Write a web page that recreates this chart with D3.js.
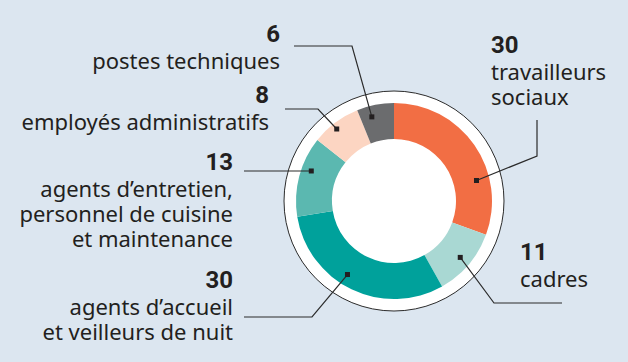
<!DOCTYPE html>
<html>
<head>
<meta charset="utf-8">
<style>
body { margin: 0; background: #dce6f0; }
.num { font-family: Roboto, "Liberation Sans", sans-serif; font-weight: 700; font-size: 24px; fill: #231f20; }
.lbl { font-family: "Noto Sans", "DejaVu Sans", sans-serif; font-size: 22px; fill: #231f20; }
</style>
</head>
<body>
<div id="diagram"></div>
<script src="https://cdn.jsdelivr.net/npm/d3@7"></script>
<script>

// data, clockwise from 12 o'clock
var categories = [ 'travailleurs sociaux', 'cadres', 'agents d\u2019accueil et veilleurs de nuit',
	'agents d\u2019entretien, personnel de cuisine et maintenance', 'employés administratifs', 'postes techniques' ];
var values = [ 30, 11, 30, 13, 8, 6 ];
var label_lines = [
	[ 'travailleurs', 'sociaux' ],
	[ 'cadres' ],
	[ 'agents d\u2019accueil', 'et veilleurs de nuit' ],
	[ 'agents d\u2019entretien,', 'personnel de cuisine', 'et maintenance' ],
	[ 'employés administratifs' ],
	[ 'postes techniques' ]
];
var colors = [ '#f26e44', '#a9d8d3', '#00a19b', '#5bb8b0', '#fcd5c2', '#6b6c6e' ];

var canvas_size = { width: 628, height: 362 };
var center = { x: 394, y: 201 };

// label placement and leader line anchors (annotation layout)
var layout = [
	{ anchor: 'start', x: 491, y: 53, lead: [ [537, 120], [537, 156] ], frac: 0.69, r: 85 },
	{ anchor: 'start', x: 520, y: 260, lead: [ [562, 303], [494, 303] ], frac: 0.5, r: 87 },
	{ anchor: 'end', x: 233, y: 288, lead: [ [244, 317], [312, 317] ], frac: 0.56, r: 87 },
	{ anchor: 'end', x: 233, y: 170, lead: [ [244, 171] ], frac: 0.61, r: 88 },
	{ anchor: 'end', x: 269, y: 103, lead: [ [285, 109], [318, 109] ], frac: 0.44, r: 92 },
	{ anchor: 'end', x: 280, y: 42, lead: [ [294, 46], [352, 46] ], frac: 0.33, r: 87 }
];

var svg = d3.select( '#diagram' )
	.append( 'svg' )
		.attr( 'width', canvas_size.width )
		.attr( 'height', canvas_size.height );

svg.append( 'rect' )
	.attr( 'width', canvas_size.width )
	.attr( 'height', canvas_size.height )
	.attr( 'fill', '#dce6f0' );

var g = svg.append( 'g' )
	.attr( 'transform', 'translate(' + center.x + ',' + center.y + ')' );

g.append( 'circle' )
	.attr( 'r', 110 )
	.attr( 'fill', '#fff' )
	.attr( 'stroke', '#2b2b2b' )
	.attr( 'stroke-width', 1 );

var pie = d3.pie().sort( null ).value( function(d) { return d; } );
var arcs = pie( values );
var arc = d3.arc().innerRadius( 62 ).outerRadius( 98 );

g.selectAll( 'path.slice' )
	.data( arcs )
	.enter().append( 'path' )
		.attr( 'class', 'slice' )
		.attr( 'd', arc )
		.attr( 'fill', function(d, i) { return colors[i]; } );

// dot position on each slice
function dot_pos( d, i )
{
	var a = d.startAngle + layout[i].frac * ( d.endAngle - d.startAngle );
	return [ center.x + layout[i].r * Math.sin( a ), center.y - layout[i].r * Math.cos( a ) ];
}

var line = d3.line();

arcs.forEach( function( d, i )
{
	var p = dot_pos( d, i );
	var pts = layout[i].lead.concat( [ p ] );
	svg.append( 'path' )
		.attr( 'd', line( pts ) )
		.attr( 'fill', 'none' )
		.attr( 'stroke', '#2b2b2b' )
		.attr( 'stroke-width', 1.2 );
	svg.append( 'rect' )
		.attr( 'x', p[0] - 2.5 )
		.attr( 'y', p[1] - 2.5 )
		.attr( 'width', 5 )
		.attr( 'height', 5 )
		.attr( 'fill', '#231f20' );
});

// labels
values.forEach( function( v, i )
{
	var L = layout[i];
	svg.append( 'text' )
		.attr( 'class', 'num' )
		.attr( 'x', L.x )
		.attr( 'y', L.y )
		.attr( 'text-anchor', L.anchor )
		.text( v );
	label_lines[i].forEach( function( t, j )
	{
		svg.append( 'text' )
			.attr( 'class', 'lbl' )
			.attr( 'x', L.x )
			.attr( 'y', L.y + 27 + j * 25 )
			.attr( 'text-anchor', L.anchor )
			.text( t );
	});
});

</script>
</body>
</html>
